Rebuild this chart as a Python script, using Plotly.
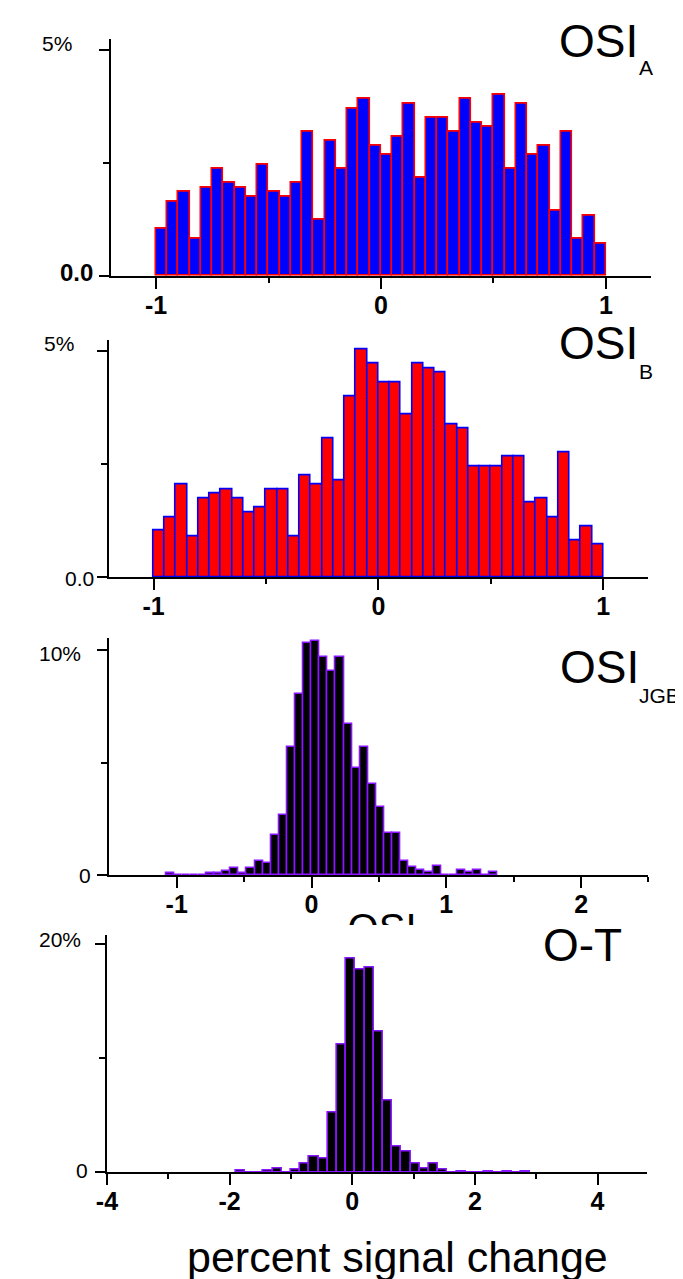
import plotly.graph_objects as go

W, H = 683, 1279
FONT = "Liberation Sans, Arial, sans-serif"

# ---------------- data (percent of cells per bin) ----------------
osi_a_left, osi_a_width = -1.0, 0.05
osi_a_pct = [1.04, 1.65, 1.85, 0.83, 1.96, 2.37, 2.06, 1.96, 1.75, 2.47,
             1.85, 1.75, 2.06, 3.19, 1.24, 2.99, 2.37, 3.71, 3.91, 2.88,
             2.68, 3.09, 3.81, 2.16, 3.50, 3.50, 3.19, 3.91, 3.40, 3.30,
             4.02, 2.37, 3.81, 2.68, 2.88, 1.44, 3.19, 0.83, 1.34, 0.72]

osi_b_left, osi_b_width = -1.0, 0.05
osi_b_pct = [1.03, 1.33, 2.05, 0.91, 1.75, 1.85, 1.95, 1.75, 1.43, 1.54,
             1.95, 1.95, 0.91, 2.26, 2.05, 3.08, 2.15, 4.01, 5.04, 4.73,
             4.32, 4.32, 3.60, 4.73, 4.62, 4.53, 3.39, 3.29, 2.46, 2.46,
             2.46, 2.67, 2.67, 1.65, 1.75, 1.33, 2.77, 0.82, 1.13, 0.72]

osi_jgb_left, osi_jgb_width = -1.08, 0.06
osi_jgb_pct = [0.1, 0, 0, 0, 0, 0.1, 0.1, 0.2, 0.33, 0.1,
               0.33, 0.64, 0.53, 1.77, 2.69, 5.68, 8.06, 10.33, 10.43, 9.70,
               9.08, 9.70, 6.72, 4.75, 5.68, 4.05, 3.01, 1.87, 1.87, 0.61,
               0.34, 0.21, 0.12, 0.42, 0, 0, 0.21, 0.12, 0.21, 0, 0.12]

ot_left, ot_width = -1.9, 0.15
ot_pct = [0.15, 0, 0, 0.15, 0.35, 0, 0.23, 0.76, 1.35, 1.2,
          5.25, 11.17, 18.72, 17.7, 17.9, 12.3, 6.24, 2.25, 1.82, 0.75,
          0.3, 0.73, 0.25, 0, 0.1, 0, 0, 0.1, 0, 0.1, 0, 0.1]

# tick labels
p1_xticks = [-1, 0, 1]
p3_xticks = [-1, 0, 1, 2]
p4_xticks = [-4, -2, 0, 2, 4]

BLUE, RED, BLACK, VIOLET = "#0000ff", "#ff0000", "#000000", "#8a15ff"


def xd(a, b):
    return [a / W, b / W]


def yd(top, bottom):
    return [1 - bottom / H, 1 - top / H]


panels = [
    dict(left=osi_a_left, bw=osi_a_width, vals=osi_a_pct, fill=BLUE, edge=RED,
         xdom=xd(93.6, 642.3), ydom=yd(30.7, 267.7), xr=[-1.2, 1.2], yr=[0, 5.25],
         xt=p1_xticks, xminor=[-0.5, 0.5], yt=[0, 5], yminor=[2.5]),
    dict(left=osi_b_left, bw=osi_b_width, vals=osi_b_pct, fill=RED, edge=BLUE,
         xdom=xd(91.0, 639.6), ydom=yd(332.4, 569.3), xr=[-1.2, 1.2], yr=[0, 5.24],
         xt=p1_xticks, xminor=[-0.5, 0.5], yt=[0, 5], yminor=[2.5]),
    dict(left=osi_jgb_left, bw=osi_jgb_width, vals=osi_jgb_pct, fill=BLACK, edge=VIOLET,
         xdom=xd(91.8, 639.8), ydom=yd(630.0, 867.0), xr=[-1.5, 2.5], yr=[0, 10.55],
         xt=p3_xticks, xminor=[-0.5, 0.5, 1.5, 2.5], yt=[0, 10], yminor=[5]),
    dict(left=ot_left, bw=ot_width, vals=ot_pct, fill=BLACK, edge=VIOLET,
         xdom=xd(89.4, 637.9), ydom=yd(926.5, 1164.3), xr=[-4, 4.8], yr=[0, 20.8],
         xt=p4_xticks, xminor=[-3, -1, 1, 3], yt=[0, 20], yminor=[10]),
]

fig = go.Figure()
layout = {}
for i, p in enumerate(panels, start=1):
    centers = [p["left"] + p["bw"] * (k + 0.5) for k in range(len(p["vals"]))]
    fig.add_trace(go.Bar(
        x=centers, y=p["vals"], width=p["bw"],
        marker=dict(color=p["fill"], line=dict(color=p["edge"], width=1.6)),
        xaxis=f"x{i}", yaxis=f"y{i}", showlegend=False, hoverinfo="skip"))
    layout[f"xaxis{i}"] = dict(
        domain=p["xdom"], range=p["xr"], anchor=f"y{i}",
        showline=True, linecolor="black", linewidth=2,
        ticks="outside", ticklen=11, tickwidth=2, tickcolor="black",
        tickmode="array", tickvals=p["xt"],
        ticktext=[f"<b>{v}</b>" for v in p["xt"]],
        tickfont=dict(family=FONT, size=25, color="black"),
        ticklabelstandoff=-5,
        minor=dict(tickmode="array", tickvals=p["xminor"], ticks="outside",
                   ticklen=5, tickwidth=2, tickcolor="black", showgrid=False),
        showgrid=False, zeroline=False, fixedrange=True)
    layout[f"yaxis{i}"] = dict(
        domain=p["ydom"], range=p["yr"], anchor=f"x{i}",
        showline=True, linecolor="black", linewidth=2,
        ticks="outside", ticklen=10, tickwidth=2, tickcolor="black",
        tickmode="array", tickvals=p["yt"], showticklabels=False,
        minor=dict(tickmode="array", tickvals=p["yminor"], ticks="outside",
                   ticklen=6, tickwidth=2, tickcolor="black", showgrid=False),
        showgrid=False, zeroline=False, fixedrange=True)

# partly hidden axis title of the OSI_JGB panel (clipped by the panel below)
fig.add_trace(go.Scatter(
    x=[0.46], y=[-0.197], mode="text", text=["OSI"], textposition="middle center",
    textfont=dict(family=FONT, size=40, color="black"), cliponaxis=True,
    xaxis="x5", yaxis="y5", showlegend=False, hoverinfo="skip"))
layout["xaxis5"] = dict(domain=xd(300, 450), range=[0, 1], visible=False, anchor="y5")
layout["yaxis5"] = dict(domain=yd(880, 917), range=[0, 1], visible=False, anchor="x5")

annotations = []


def ylab(text, right_px, yref, yval, shift, size=21, bold=False):
    annotations.append(dict(
        text=f"<b>{text}</b>" if bold else text, xref="paper", yref=yref,
        x=right_px / W, y=yval, xanchor="right", yanchor="middle", yshift=shift,
        showarrow=False, font=dict(family=FONT, size=size, color="black")))


ylab("5%", 56, "y1", 5, 6)
ylab("0.0", 77, "y1", 0, 3, size=24, bold=True)
ylab("5%", 58, "y2", 5, 8)
ylab("0.0", 78, "y2", 0, -1)
ylab("10%", 65, "y3", 10, -3)
ylab("0", 75, "y3", 0, 0)
ylab("20%", 65, "y4", 20, 4)
ylab("0", 72, "y4", 0, 2)


def ptext(text, cx, cy, size):
    annotations.append(dict(
        text=text, xref="paper", yref="paper", x=cx / W, y=1 - cy / H,
        xanchor="center", yanchor="middle", showarrow=False,
        font=dict(family=FONT, size=size, color="black")))


ptext("OSI", 589, 32.5, 46)
ptext("A", 637, 59, 21)
ptext("OSI", 589, 335.5, 46)
ptext("B", 637, 363, 21)
ptext("OSI", 589.5, 658.5, 46)
ptext("JGB", 651, 687, 21)
ptext("O-T", 573, 936.5, 46)
ptext("percent signal change", 385, 1249, 43)

fig.update_layout(
    width=W, height=H, margin=dict(l=0, r=0, t=0, b=0),
    paper_bgcolor="white", plot_bgcolor="white",
    annotations=annotations, showlegend=False, bargap=0,
    font=dict(family=FONT, color="black"),
    **layout)

fig.write_html("out.html")
